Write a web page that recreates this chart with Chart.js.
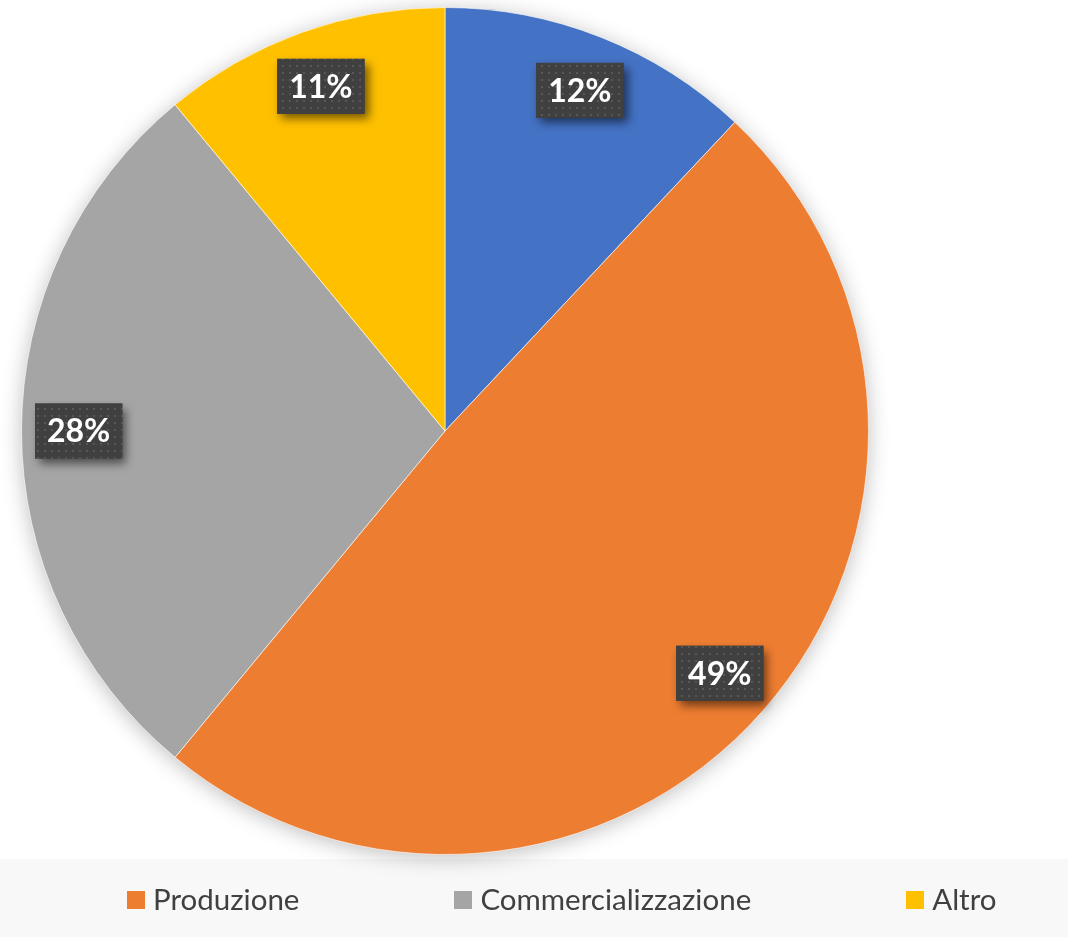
<!DOCTYPE html>
<html>
<head>
<meta charset="utf-8">
<script src="https://cdn.jsdelivr.net/npm/chart.js@4/dist/chart.umd.min.js"></script>
<style>
  html, body { margin: 0; padding: 0; background: #ffffff; }
  #wrap { position: relative; width: 1068px; height: 937px; overflow: hidden; }
  #legend {
    position: absolute; left: 0; top: 859px; width: 1068px; height: 78px;
    display: flex; align-items: center; box-sizing: border-box;
    padding-left: 127px; gap: 155px;
    font-family: Lato, "Open Sans", sans-serif; font-size: 29.5px; color: #404040;
  }
  .legend-item { display: flex; align-items: center; white-space: nowrap; }
  .legend-box { width: 18px; height: 18px; margin-right: 8px; margin-top: 4px; }
</style>
</head>
<body>
<div id="wrap">
  <canvas id="pie-chart" width="1068" height="937"></canvas>
  <div id="legend"></div>
</div>
<script>
// first slice has no entry in the legend
const categories = ["", "Produzione", "Commercializzazione", "Altro"];
const shares = [12, 49, 28, 11];
const sliceColors = ["#4472C4", "#ED7D31", "#A5A5A5", "#FFC000"];

function dottedPattern(ctx) {
  const tile = document.createElement("canvas");
  tile.width = 7;
  tile.height = 7;
  const t = tile.getContext("2d");
  t.fillStyle = "#404040";
  t.fillRect(0, 0, 7, 7);
  t.fillStyle = "#575757";
  t.fillRect(2, 2, 2, 2);
  return ctx.createPattern(tile, "repeat");
}

const legendBand = {
  id: "legendBand",
  beforeDraw(chart) {
    const ctx = chart.ctx;
    ctx.save();
    ctx.fillStyle = "#f8f8f8";
    ctx.fillRect(0, 859, chart.width, chart.height - 859);
    ctx.restore();
  },
};

const pieShadow = {
  id: "pieShadow",
  beforeDatasetsDraw(chart) {
    const arc = chart.getDatasetMeta(0).data[0];
    if (!arc) {
      return;
    }
    const { x, y, outerRadius } = arc.getProps(["x", "y", "outerRadius"], true);
    const ctx = chart.ctx;
    ctx.save();
    ctx.shadowColor = "rgba(0, 0, 0, 0.28)";
    ctx.shadowBlur = 22;
    ctx.shadowOffsetY = 3;
    ctx.fillStyle = "#ffffff";
    ctx.beginPath();
    ctx.arc(x, y, outerRadius - 1, 0, Math.PI * 2);
    ctx.fill();
    ctx.restore();
  },
};

const percentLabels = {
  id: "percentLabels",
  afterDatasetsDraw(chart) {
    const ctx = chart.ctx;
    const pattern = dottedPattern(ctx);
    const meta = chart.getDatasetMeta(0);

    ctx.save();
    ctx.font = "bold 32px Lato, 'Open Sans', sans-serif";
    ctx.textAlign = "center";
    ctx.textBaseline = "middle";

    meta.data.forEach((arc, i) => {
      const { x, y, startAngle, endAngle, outerRadius } =
        arc.getProps(["x", "y", "startAngle", "endAngle", "outerRadius"], true);
      const mid = (startAngle + endAngle) / 2;
      const dist = outerRadius * 0.865;
      const cx = x + Math.cos(mid) * dist;
      const cy = y + Math.sin(mid) * dist;
      const text = `${shares[i]}%`;
      const w = ctx.measureText(text).width + 24;
      const h = 55;

      ctx.save();
      ctx.shadowColor = "rgba(0, 0, 0, 0.55)";
      ctx.shadowBlur = 9;
      ctx.shadowOffsetX = 4;
      ctx.shadowOffsetY = 5;
      ctx.fillStyle = "#404040";
      ctx.fillRect(cx - w / 2, cy - h / 2, w, h);
      ctx.restore();

      ctx.fillStyle = pattern;
      ctx.fillRect(cx - w / 2, cy - h / 2, w, h);

      ctx.fillStyle = "#ffffff";
      ctx.fillText(text, cx, cy + 1);
    });

    ctx.restore();
  },
};

const pieChart = new Chart(document.getElementById("pie-chart"), {
  type: "pie",
  data: {
    labels: categories,
    datasets: [
      {
        data: shares,
        backgroundColor: sliceColors,
        borderColor: "rgba(255, 255, 255, 0.6)",
        borderWidth: 1,
        hoverOffset: 0,
      },
    ],
  },
  options: {
    responsive: false,
    animation: false,
    layout: {
      padding: { top: 7, bottom: 82, left: 0, right: 178 },
    },
    plugins: {
      legend: { display: false },
      tooltip: { enabled: false },
    },
  },
  plugins: [legendBand, pieShadow, percentLabels],
});

function renderLegend() {
  const legend = document.getElementById("legend");
  legend.innerHTML = categories
    .map((name, i) => {
      if (!name) {
        return "";
      }
      return `
        <div class="legend-item">
          <span class="legend-box" style="background: ${sliceColors[i]}"></span>
          <span>${name}</span>
        </div>
      `;
    })
    .join("");
}

renderLegend();
</script>
</body>
</html>
